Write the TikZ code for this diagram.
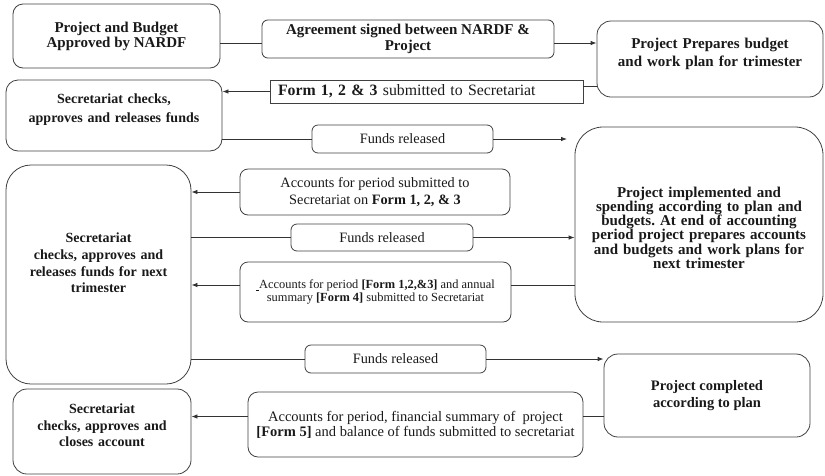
\documentclass[tikz,border=0pt]{standalone}
\usepackage{fontspec}
\setmainfont{Liberation Serif}
\usepackage{xcolor}
\usetikzlibrary{arrows.meta}

\tikzset{
  stagebox/.style={draw=black!75, line width=0.8pt, align=center, inner sep=4pt,
    text=black!90, font=\bfseries\fontsize{14}{16.7}\selectfont},
  notebox/.style={draw=black!75, line width=0.8pt, align=center, inner sep=4pt,
    text=black!90, font=\fontsize{14.3}{17}\selectfont, rounded corners=6pt},
  flowline/.style={draw=black!80, line width=0.8pt},
  flowarrow/.style={flowline, -{Latex[length=6pt,width=4.5pt]}}
}

\begin{document}
\begin{tikzpicture}[x=1pt, y=-1pt]
\useasboundingbox (0,0) rectangle (825,475);

% top row
\node[stagebox, rounded corners=10pt, minimum width=207pt, minimum height=64pt, font=\bfseries\fontsize{15}{15}\selectfont] (approved) at (116.5,36) {Project and Budget\\Approved by NARDF};
\node[notebox, font=\bfseries\fontsize{15}{16.5}\selectfont, minimum width=292pt, minimum height=36pt] (agreement) at (408,39) {Agreement signed between NARDF \&\\Project};
\node[stagebox, rounded corners=14pt, minimum height=76pt, text width=218pt, text depth=31pt, font=\bfseries\fontsize{15}{17.7}\selectfont] (prepares) at (710,59) {Project Prepares budget\\and work plan for trimester};

% first trimester
\node[notebox, rounded corners=0pt, minimum height=23pt, text width=297pt, inner xsep=8pt, align=left, font=\fontsize{15.8}{17}\selectfont] (formsA) at (426.5,91.5) {\textbf{Form 1, 2 \& 3} submitted to Secretariat};
\node[stagebox, rounded corners=12pt, minimum height=71pt, text width=208pt, text depth=34pt, font=\bfseries\fontsize{14}{19}\selectfont] (checksA) at (114,115.5) {Secretariat checks,\\approves and releases funds};
\node[notebox, minimum width=181pt, minimum height=28pt] (fundsA) at (402.5,139) {Funds released};
\coordinate (fundsAend) at (567,139);

% running trimesters
\node[stagebox, rounded corners=25pt, minimum height=219pt, text width=177pt, text depth=73pt] (checksB) at (98.5,274.5) {Secretariat\\checks, approves and\\releases funds for next\\trimester};
\node[stagebox, rounded corners=28pt, minimum height=195pt, text width=240pt, text depth=65pt, font=\bfseries\fontsize{15}{14.2}\selectfont] (implemented) at (699,224.5) {Project implemented and\\spending according to plan and\\budgets.\ At end of accounting\\period project prepares accounts\\and budgets and work plans for\\next trimester};
\node[notebox, rounded corners=8pt, minimum width=270pt, minimum height=46pt] (accountsA) at (375,192) {Accounts for period submitted to\\Secretariat on \textbf{Form 1, 2, \& 3}};
\node[notebox, minimum width=182pt, minimum height=27pt] (fundsB) at (382,237.5) {Funds released};
\node[notebox, rounded corners=8pt, minimum width=271pt, minimum height=60pt, font=\fontsize{12.4}{13}\selectfont] (accountsB) at (375.5,292) {\underline{\kern3pt}Accounts for period \textbf{[Form 1,2,\&3]} and annual\\summary \textbf{[Form 4]} submitted to Secretariat};

% closing
\node[notebox, minimum width=181pt, minimum height=28pt] (fundsC) at (395.5,359) {Funds released};
\node[stagebox, rounded corners=14pt, minimum width=206pt, minimum height=83pt, font=\bfseries\fontsize{14.5}{16.7}\selectfont] (completed) at (707,395.5) {Project completed\\according to plan};
\node[notebox, rounded corners=10pt, minimum width=335pt, minimum height=65pt, font=\fontsize{14.5}{15}\selectfont] (accountsC) at (415.5,424.5) {Accounts for period, financial summary of\ \ project\\\textbf{[Form 5]} and balance of funds submitted to secretariat};
\node[stagebox, rounded corners=14pt, minimum height=85pt, text width=170pt, text depth=46pt] (closes) at (102,431.5) {Secretariat\\checks, approves and\\closes account};

% side points of the long boxes
\coordinate (agreementin) at ([yshift=-4pt]agreement.west);
\coordinate (agreementout) at ([yshift=-4pt]agreement.east);
\coordinate (formsAout) at ([yshift=5pt]formsA.east);
\coordinate (accountsBout) at ([yshift=7pt]accountsB.east);
\coordinate (accountsBin) at ([yshift=7pt]accountsB.west);
\coordinate (accountsCout) at ([yshift=8pt]accountsC.east);
\coordinate (accountsCin) at ([yshift=8pt]accountsC.west);

% connectors
\draw[flowline] (approved.east |- agreementin) -- (agreementin);
\draw[flowarrow] (agreementout) -- (agreementout -| prepares.west);
\draw[flowline] (prepares.west |- formsAout) -- (formsAout);
\draw[flowarrow] (formsA.west) -- (formsA.west -| checksA.east);
\draw[flowline] (checksA.east |- fundsA.west) -- (fundsA.west);
\draw[flowarrow] (fundsA.east) -- (fundsAend);
\draw[flowarrow] (accountsA.west) -- (accountsA.west -| checksB.east);
\draw[flowline] (checksB.east |- fundsB.west) -- (fundsB.west);
\draw[flowarrow] (fundsB.east) -- (fundsB.east -| implemented.west);
\draw[flowline] (implemented.west |- accountsBout) -- (accountsBout);
\draw[flowarrow] (accountsBin) -- (accountsBin -| checksB.east);
\draw[flowline] (checksB.east |- fundsC.west) -- (fundsC.west);
\draw[flowarrow] (fundsC.east) -- (fundsC.east -| completed.west);
\draw[flowline] (completed.west |- accountsCout) -- (accountsCout);
\draw[flowarrow] (accountsCin) -- (accountsCin -| closes.east);
\end{tikzpicture}
\end{document}
